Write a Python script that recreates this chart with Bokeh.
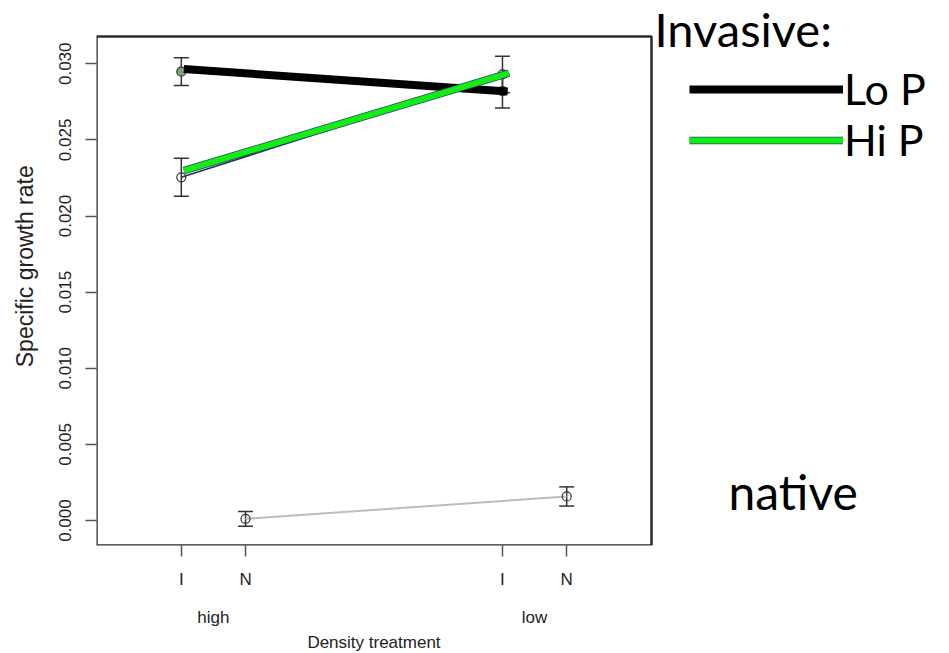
from bokeh.plotting import figure
from bokeh.models import (ColumnDataSource, FixedTicker, LinearAxis, Range1d, Whisker,
                          Label, Legend, LegendItem, TeeHead, PrintfTickFormatter, BoxAnnotation)
from bokeh.embed import file_html
from bokeh.resources import INLINE

# ---- data ----
x_tick_positions = [1, 2, 6, 7]
x_tick_labels = ["I", "N", "I", "N"]
density_positions = [1.5, 6.5]
density_labels = ["high", "low"]
y_ticks = [0.0, 0.005, 0.010, 0.015, 0.020, 0.025, 0.030]
x_title = "Density treatment"
y_title = "Specific growth rate"

# plotting region limits of the original chart (x: 0..8, y: 0..0.0305 with 4% padding)
box_x = [-0.32, 8.32]
box_y = [-0.00164, 0.03179]
# where the axis titles sit along their axes
x_title_pos = 4.0
y_title_pos = 0.0167

# invasive series (points with standard errors)
inv_green_x = [1, 6]
inv_green_y = [0.02948, 0.0282]
inv_green_se = [0.00091, 0.0011]
inv_dark_x = [1, 6]
inv_dark_y = [0.02254, 0.0293]
inv_dark_se = [0.00125, 0.0012]
# native series
native_x = [2, 7]
native_y = [0.00011, 0.00158]
native_se = [0.00049, 0.00063]
# hand-drawn overlay lines
lo_p_x = [1.04, 6.08]
lo_p_y = [0.02965, 0.02818]
hi_p_x = [1.04, 6.10]
hi_p_y = [0.02298, 0.02939]

FONT = "Liberation Sans"
BIG = "Lato"

# layout: the box spans 555 x 509 px; the frame extends to the page's top and right edge
BOX_W, BOX_H = 555, 509
FRAME_W, FRAME_H = 851, 545
x_end = box_x[0] + FRAME_W * (box_x[1] - box_x[0]) / BOX_W
y_end = box_y[0] + FRAME_H * (box_y[1] - box_y[0]) / BOX_H

p = figure(frame_width=FRAME_W, frame_height=FRAME_H,
           min_border_left=96, min_border_right=0, min_border_top=0, min_border_bottom=105,
           x_range=Range1d(box_x[0], x_end), y_range=Range1d(box_y[0], y_end),
           output_backend="svg", toolbar_location=None)
p.grid.visible = False
p.outline_line_color = None

p.add_layout(BoxAnnotation(left=box_x[0], right=box_x[1], bottom=box_y[0], top=box_y[1],
                           fill_alpha=0, line_color="#2a2a2a", line_alpha=1, line_width=2.5))

def plain_axis(ax, size="17px", standoff=10):
    ax.axis_line_color = None
    ax.major_tick_line_color = None
    ax.minor_tick_line_color = None
    ax.major_label_text_font = FONT
    ax.major_label_text_font_size = size
    ax.major_label_text_color = "#222222"
    ax.major_label_standoff = standoff

# x axis: I / N
xa = p.xaxis[0]
xa.ticker = FixedTicker(ticks=x_tick_positions)
xa.major_label_overrides = {t: l for t, l in zip(x_tick_positions, x_tick_labels)}
plain_axis(xa, standoff=13)
xa.major_tick_out = 11
xa.major_tick_in = 0
xa.major_tick_line_color = "#555555"
xa.major_tick_line_width = 1.5

# second x axis: density levels
xa2 = LinearAxis(ticker=FixedTicker(ticks=density_positions),
                 major_label_overrides={t: l for t, l in zip(density_positions, density_labels)})
plain_axis(xa2, standoff=10)
p.add_layout(xa2, "below")

# third x axis: title centred under the box
xa3 = LinearAxis(ticker=FixedTicker(ticks=[x_title_pos]),
                 major_label_overrides={x_title_pos: x_title})
plain_axis(xa3, standoff=3)
xa3.major_tick_out = 0
p.add_layout(xa3, "below")

# y axis
ya = p.yaxis[0]
ya.ticker = FixedTicker(ticks=y_ticks)
ya.formatter = PrintfTickFormatter(format="%.3f")
plain_axis(ya, standoff=14)
ya.major_tick_out = 11
ya.major_tick_in = 0
ya.major_tick_line_color = "#555555"
ya.major_tick_line_width = 1.5
ya.major_label_orientation = "vertical"

ya2 = LinearAxis(ticker=FixedTicker(ticks=[y_title_pos]),
                 major_label_overrides={y_title_pos: y_title})
plain_axis(ya2, size="23px", standoff=18)
ya2.major_tick_out = 0
ya2.major_label_orientation = "vertical"
p.add_layout(ya2, "left")

# error bars
def whisk(xs, ys, se):
    src = ColumnDataSource(dict(x=xs, upper=[a + b for a, b in zip(ys, se)],
                                lower=[a - b for a, b in zip(ys, se)]))
    w = Whisker(base="x", upper="upper", lower="lower", source=src,
                line_color="#333333", line_width=1.5, level="underlay",
                upper_head=TeeHead(size=15, line_color="#333333", line_width=1.5),
                lower_head=TeeHead(size=15, line_color="#333333", line_width=1.5))
    p.add_layout(w)

whisk(inv_green_x, inv_green_y, inv_green_se)
whisk(inv_dark_x, inv_dark_y, inv_dark_se)
whisk(native_x, native_y, native_se)

# thin R series lines
p.line(inv_green_x, inv_green_y, line_color="#33cc33", line_width=1.5)
p.line(inv_dark_x, inv_dark_y, line_color="#223355", line_width=1.5)
p.line(native_x, native_y, line_color="#bdbdbd", line_width=2)

# points
p.scatter(inv_green_x, inv_green_y, marker="circle", size=9, fill_color="#7aa87a",
          line_color="#333333", line_width=1.2)
p.scatter(inv_dark_x, inv_dark_y, marker="circle", size=9, fill_color=None,
          line_color="#333333", line_width=1.2)
p.scatter(native_x, native_y, marker="circle", size=9, fill_color=None,
          line_color="#333333", line_width=1.2)

# thick overlay lines
r_lo = p.line(lo_p_x, lo_p_y, line_color="#000000", line_width=8)
r_hi_edge = p.line(hi_p_x, hi_p_y, line_color="#2a3f78", line_width=7.5)
r_hi = p.line(hi_p_x, hi_p_y, line_color="#11ee11", line_width=6)

legend = Legend(items=[LegendItem(label="Lo P", renderers=[r_lo]),
                       LegendItem(label="Hi P", renderers=[r_hi_edge, r_hi])],
                location=(593, 380), orientation="vertical",
                glyph_width=154, glyph_height=20, label_standoff=1, spacing=0,
                padding=0, margin=0, label_height=49,
                label_text_font=BIG, label_text_font_size="43px", label_text_color="#000000",
                border_line_color=None, background_fill_alpha=0)
p.add_layout(legend, "center")

p.add_layout(Label(x=558, y=517, x_units="screen", y_units="screen", text="Invasive:",
                   text_font=BIG, text_font_size="47px", text_color="#000000",
                   text_baseline="alphabetic"))
p.add_layout(Label(x=632, y=54, x_units="screen", y_units="screen", text="native",
                   text_font=BIG, text_font_size="48px", text_color="#000000",
                   text_baseline="alphabetic"))

open("out.html", "w").write(file_html(p, INLINE))
